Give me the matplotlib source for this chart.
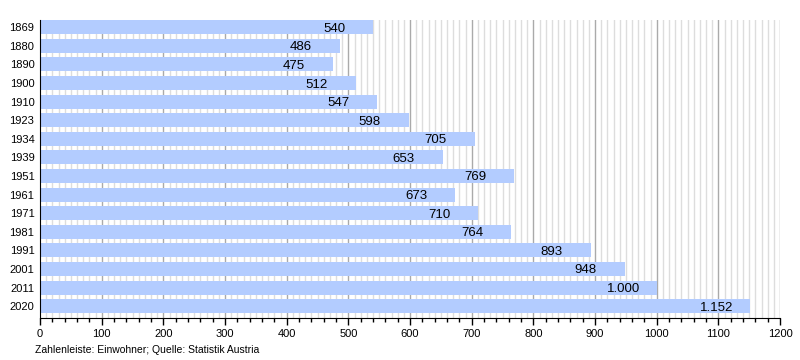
import matplotlib
matplotlib.use("Agg")
import matplotlib.pyplot as plt
from matplotlib.ticker import MultipleLocator
from matplotlib.transforms import offset_copy

years = ["1869", "1880", "1890", "1900", "1910", "1923", "1934", "1939",
         "1951", "1961", "1971", "1981", "1991", "2001", "2011", "2020"]
values = [540, 486, 475, 512, 547, 598, 705, 653, 769, 673, 710, 764, 893, 948, 1000, 1152]

plt.rcParams['font.family'] = ['Liberation Sans', 'DejaVu Sans']

fig = plt.figure(figsize=(8, 3.6), dpi=100)
ax = fig.add_axes([0.05, 0.117, 0.925, 0.827])

ypos = list(range(len(years)))
ax.barh(ypos, values, height=0.76, color="#b3ccff", zorder=2)

# labels start at fixed pixel offset left of bar end
trans = offset_copy(ax.transData, fig=fig, x=-50, y=-1.5, units="dots")
for y, v in zip(ypos, values):
    lab = f"{v:,}".replace(",", ".")
    ax.text(v, y, lab, ha="left", va="center", fontsize=9.5, color="#000",
            zorder=3, transform=trans)

ax.set_xlim(0, 1200)
ax.set_ylim(15.63, -0.38)
ax.set_yticks(ypos)
ax.set_yticklabels(years, fontsize=8)
ax.tick_params(axis="y", length=0, pad=4)

ax.xaxis.set_major_locator(MultipleLocator(100))
ax.xaxis.set_minor_locator(MultipleLocator(20))
ax.tick_params(axis="x", which="major", length=5, width=1, labelsize=8, pad=3)
ax.tick_params(axis="x", which="minor", length=3, width=1)

# grid: fine every 10, stronger every 100
for xv in range(10, 1201, 10):
    if xv % 100 == 0:
        ax.axvline(xv, color="#aaaaaa", lw=1, zorder=1)
    else:
        ax.axvline(xv, color="#dddddd", lw=1, zorder=1)

for s in ["top", "right"]:
    ax.spines[s].set_visible(False)
ax.spines["left"].set_color("black")
ax.spines["bottom"].set_color("black")

fig.text(0.044, 0.027, "Zahlenleiste: Einwohner; Quelle: Statistik Austria", fontsize=7.5, ha="left", va="center")

fig.savefig("out.png", dpi=100)
